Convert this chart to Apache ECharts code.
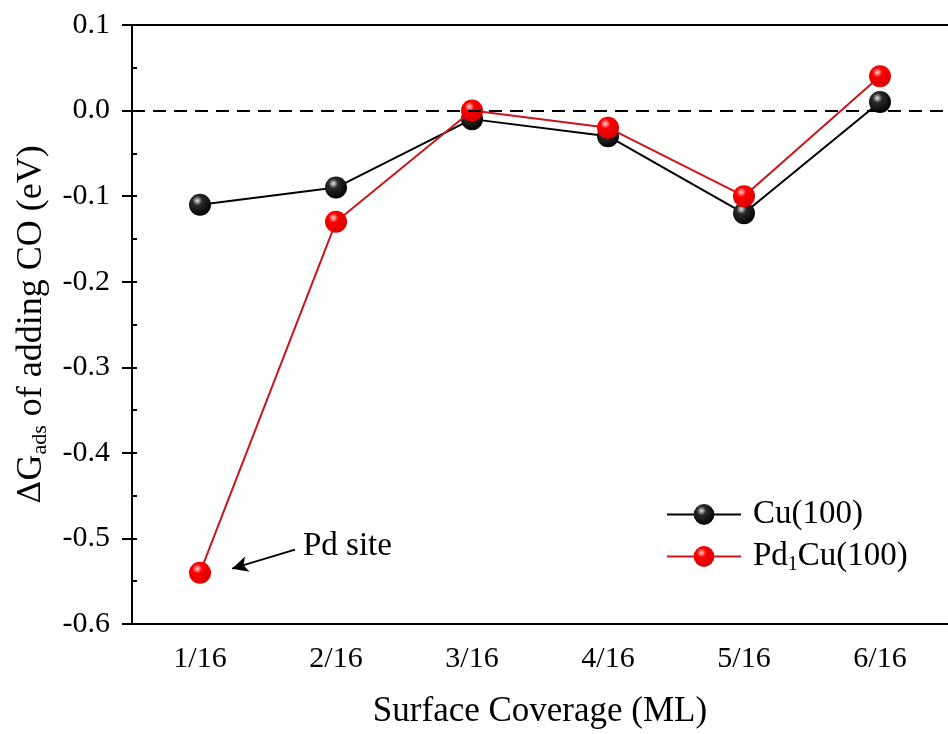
<!DOCTYPE html>
<html>
<head>
<meta charset="utf-8">
<script src="https://cdn.jsdelivr.net/npm/echarts@6/dist/echarts.min.js"></script>
<style>
  html, body { margin: 0; padding: 0; background: #fff; }
  #chart { width: 948px; height: 734px; }
</style>
</head>
<body>
<div id="chart"></div>
<script>
// Surface coverage categories (ML)
const coverage = ['1/16', '2/16', '3/16', '4/16', '5/16', '6/16'];
// Adsorption free energy of adding CO (eV)
const cu100 = [-0.11, -0.09, -0.01, -0.03, -0.12, 0.01];
const pd1cu100 = [-0.54, -0.13, 0.00, -0.02, -0.10, 0.04];
const seriesNames = ['Cu(100)', 'Pd1Cu(100)'];

const FONT = "'Liberation Serif', 'Times New Roman', serif";

function sphere(light, mid, dark) {
  return {
    type: 'radial', x: 0.38, y: 0.32, r: 0.72,
    colorStops: [
      { offset: 0, color: light },
      { offset: 0.3, color: mid },
      { offset: 1, color: dark }
    ]
  };
}

const chart = echarts.init(document.getElementById('chart'));

chart.setOption({
  backgroundColor: '#fff',
  animation: false,
  grid: { left: 132, right: -8, top: 25, bottom: 110, show: false },
  legend: {
    orient: 'vertical',
    left: 661,
    top: 493,
    itemWidth: 74,
    itemHeight: 26,
    itemGap: 9,
    data: seriesNames,
    formatter: function (name) {
      return name === 'Pd1Cu(100)' ? 'Pd{sub|1}Cu(100)' : name;
    },
    textStyle: {
      fontFamily: FONT, fontSize: 33, color: '#000',
      padding: [0, 0, 0, 7],
      rich: {
        sub: { fontFamily: FONT, fontSize: 20, color: '#000', verticalAlign: 'bottom', padding: [16, 0, 0, 0] }
      }
    }
  },
  xAxis: [{
    type: 'category',
    data: coverage,
    boundaryGap: true,
    name: 'Surface Coverage (ML)',
    nameLocation: 'middle',
    nameGap: 70,
    nameTextStyle: { fontFamily: FONT, fontSize: 35, color: '#000' },
    axisLine: { onZero: false, lineStyle: { color: '#000', width: 2 } },
    axisTick: { alignWithLabel: true, length: 9, lineStyle: { color: '#000', width: 2 } },
    axisLabel: { fontFamily: FONT, fontSize: 30, color: '#000', margin: 20 },
    splitLine: { show: false }
  }, {
    type: 'category',
    data: coverage,
    position: 'top',
    axisLine: { onZero: false, lineStyle: { color: '#000', width: 2 } },
    axisTick: { show: false },
    axisLabel: { show: false },
    splitLine: { show: false }
  }],
  yAxis: [{
    type: 'value',
    min: -0.6,
    max: 0.1,
    interval: 0.1,
    name: '{d|Δ}G{sub|ads} of adding CO (eV)',
    nameLocation: 'middle',
    nameGap: 80,
    nameTextStyle: {
      fontFamily: FONT, fontSize: 36, color: '#000',
      rich: {
        d: { fontFamily: "'DejaVu Serif', serif", fontSize: 32, color: '#000' },
        sub: { fontFamily: FONT, fontSize: 22, color: '#000', verticalAlign: 'bottom', padding: [18, 0, 0, 0] }
      }
    },
    axisLine: { show: true, onZero: false, lineStyle: { color: '#000', width: 2 } },
    axisTick: { show: true, length: 10, lineStyle: { color: '#000', width: 2 } },
    axisLabel: {
      fontFamily: FONT, fontSize: 30, color: '#000', margin: 22,
      formatter: function (v) { return v.toFixed(1); }
    },
    splitLine: { show: false }
  }, {
    // inner minor ticks every 0.05
    type: 'value',
    position: 'left',
    min: -0.6,
    max: 0.1,
    interval: 0.05,
    axisLine: { show: false },
    axisTick: { show: true, inside: true, length: 5, lineStyle: { color: '#000', width: 2 } },
    axisLabel: { show: false },
    splitLine: { show: false }
  }],
  series: [{
    name: 'Cu(100)',
    type: 'line',
    data: cu100,
    symbol: 'circle',
    symbolSize: 22,
    lineStyle: { color: '#000', width: 2 },
    itemStyle: { color: sphere('#e8e8e8', '#2a2a2a', '#000') },
    z: 3,
    markLine: {
      silent: true,
      symbol: ['none', 'none'],
      label: { show: false },
      lineStyle: { color: '#000', width: 2, type: [13, 8] },
      data: [{ yAxis: 0 }]
    }
  }, {
    name: 'Pd1Cu(100)',
    type: 'line',
    data: pd1cu100,
    symbol: 'circle',
    symbolSize: 22,
    lineStyle: { color: '#c8161d', width: 2 },
    itemStyle: { color: sphere('#ffd6d6', '#ff0000', '#d80000') },
    z: 4
  }]
});

// "Pd site" annotation pointing at the 1/16 Pd1Cu(100) point
const p = chart.convertToPixel({ xAxisIndex: 0, yAxisIndex: 0 }, [0, pd1cu100[0]]);
chart.setOption({
  series: [{}, {
    markLine: {
      silent: true,
      symbol: ['none', 'arrow'],
      symbolSize: [12, 16],
      label: { show: false },
      lineStyle: { color: '#000', width: 2, type: 'solid' },
      data: [[{ x: p[0] + 95, y: p[1] - 23 }, { x: p[0] + 32, y: p[1] - 4 }]]
    }
  }],
  graphic: [{
    type: 'text',
    left: p[0] + 103,
    top: p[1] - 43,
    style: { text: 'Pd site', font: "33px 'Liberation Serif', 'Times New Roman', serif", fill: '#000' }
  }]
});
</script>
</body>
</html>
